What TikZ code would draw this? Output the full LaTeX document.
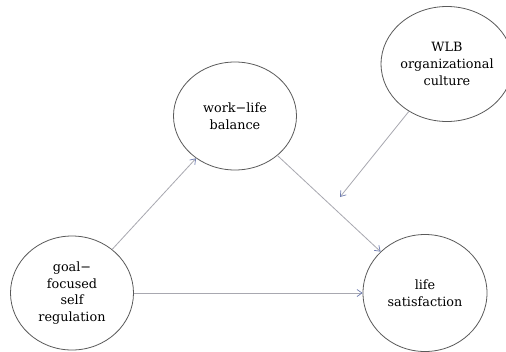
\documentclass[tikz,border=0pt]{standalone}
\usepackage{fontspec}
\setmainfont{DejaVu Serif}
\usetikzlibrary{shapes.geometric,arrows.meta}
\definecolor{linec}{HTML}{A8A8B0}
\definecolor{tipc}{HTML}{6E7CB0}
\definecolor{bordc}{HTML}{5A5A5A}
\begin{document}
\begin{tikzpicture}[x=1pt,y=-1pt,
  var/.style={ellipse,draw=bordc,line width=0.8pt,minimum width=123pt,minimum height=114pt,
    inner sep=0pt,align=center,font=\fontsize{12.8}{16.8}\selectfont},
  conn/.style={draw=linec,line width=0.8pt,-{Straight Barb[length=5pt,width=7pt,color=tipc,line width=0.7pt]}}]
\useasboundingbox[fill=white] (0,0) rectangle (506,351);
\node[var] (goal) at (72,293) {goal−\\focused\\self\\regulation};
\node[var,minimum height=108pt] (wlb) at (235,116) {work−life\\balance};
\node[var,minimum width=119pt,minimum height=115pt] (cult) at (447,64) {WLB\\organizational\\culture};
\node[var,minimum width=124pt,minimum height=117pt] (ls) at (425,293) {life\\satisfaction};
\coordinate (m) at (340,197);
\draw[conn] (goal) -- (wlb);
\draw[conn] (goal) -- (ls);
\draw[conn] (wlb) -- (ls);
\draw[conn] (cult) -- (m);
\end{tikzpicture}
\end{document}
